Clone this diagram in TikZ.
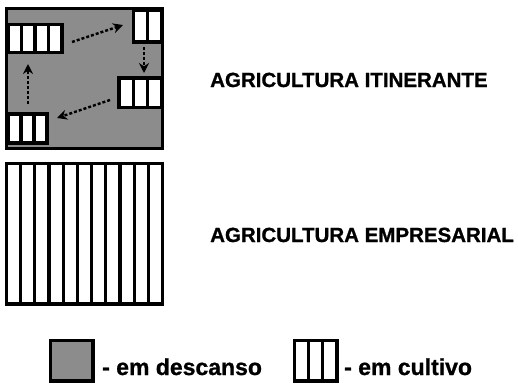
\documentclass[tikz,border=0pt]{standalone}
\usepackage{fontspec}
\setmainfont{Liberation Sans}
\newfontfamily\heavyfont[FakeBold=1.0]{Liberation Sans Bold}
\usetikzlibrary{arrows.meta}
\definecolor{fallow}{RGB}{140,140,140}
\tikzset{
  fallowfill/.style={fill=fallow},
  cropblock/.style={fill=white,draw=black,line width=3.2pt},
  cropline/.style={draw=black,line width=3.2pt},
  frame/.style={draw=black,line width=3.6pt},
  rot/.style={dashed,dash pattern=on 3pt off 2pt,line width=2.4pt,-{Stealth[length=10pt,width=10pt]}},
  title/.style={font=\fontsize{20.5}{24}\heavyfont,anchor=base west,inner sep=0pt},
  legtext/.style={font=\fontsize{23}{26}\heavyfont,anchor=base west,inner sep=0pt}
}
\begin{document}
\begin{tikzpicture}[x=1pt,y=-1pt]
\useasboundingbox (0,0) rectangle (518,383);
% ---- itinerant field ----
\fill[fallowfill] (6.5,8.5) rectangle (162.5,148.5);
% top-left block (4 columns)
\draw[cropblock] (8,24.5) rectangle (62,52.5);
\foreach \x in {21.5,35,48.5} \draw[cropline] (\x,24.5) -- (\x,52.5);
% top-right block (2 columns)
\draw[cropblock] (133.5,10) rectangle (162,42);
\draw[cropline] (147.7,10) -- (147.7,42);
% middle-right block (3 columns)
\draw[cropblock] (119,78) rectangle (162,107.5);
\foreach \x in {133.3,147.7} \draw[cropline] (\x,78) -- (\x,107.5);
% bottom-left block (3 columns)
\draw[cropblock] (8,114) rectangle (47,143);
\foreach \x in {21,34} \draw[cropline] (\x,114) -- (\x,143);
\draw[frame] (6.5,8.5) rectangle (162.5,148.5);
% arrows
\coordinate (a1) at (72,42);  \coordinate (b1) at (123,25);
\coordinate (a2) at (144,47); \coordinate (b2) at (144,73);
\coordinate (a3) at (110,100); \coordinate (b3) at (57,118);
\coordinate (a4) at (28,104); \coordinate (b4) at (28,64);
\draw[rot] (a1) -- (b1);
\draw[rot] (a2) -- (b2);
\draw[rot] (a3) -- (b3);
\draw[rot] (a4) -- (b4);
% ---- enterprise field ----
\draw[cropblock,line width=3.6pt] (6.5,163.5) rectangle (162.5,304);
\foreach \i in {1,...,10} \draw[cropline] (6.5+\i*14.18,163.5) -- (6.5+\i*14.18,304);
% ---- titles ----
\node[title] (t1) at (210,87) {AGRICULTURA ITINERANTE};
\node[title] (t2) at (210,242) {AGRICULTURA EMPRESARIAL};
% ---- legend ----
\draw[fallowfill,draw=black,line width=3.2pt] (50.5,340.5) rectangle (93,381);
\node[legtext] (l1) at (102,375) {- em descanso};
\draw[cropblock] (294.5,340.5) rectangle (337,381);
\foreach \x in {308.7,322.8} \draw[cropline] (\x,340.5) -- (\x,381);
\node[legtext] (l2) at (344,375) {- em cultivo};
\end{tikzpicture}
\end{document}
